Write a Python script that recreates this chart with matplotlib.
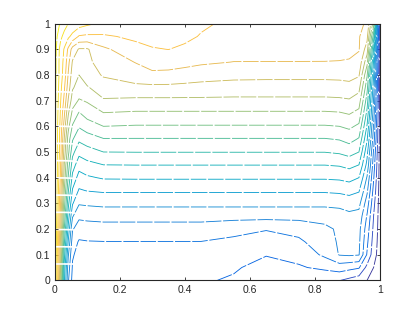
import numpy as np
import matplotlib
matplotlib.use("Agg")
import matplotlib.pyplot as plt
from matplotlib.colors import LinearSegmentedColormap

# ---- data: temperature field ----
x_nodes = [0, 0.008, 0.018, 0.03, 0.042, 0.055, 0.075, 0.1,
           0.15, 0.25, 0.3, 0.35, 0.4, 0.45, 0.55, 0.65, 0.75, 0.83,
           0.875, 0.905, 0.935, 0.96, 0.98, 1.0]
y_nodes = [0.0, 0.05, 0.1, 0.15, 0.2, 0.25, 0.3, 0.35, 0.4, 0.45, 0.5,
           0.55, 0.6, 0.65, 0.7, 0.75, 0.8, 0.85, 0.9, 0.95, 1.0]

#            left wall layer (x<=0.1)                              interior (0.15..0.83)                                                     right wall layer (0.875..1)
row_y000 = [1.0, 0.86, 0.66, 0.38, 0.23, 0.16, 0.145, 0.14] + [0.138, 0.135, 0.134, 0.132, 0.131, 0.13, 0.12, 0.1, 0.09, 0.085] + [0.077, 0.062, 0.045, 0.025, 0.012, 0.0]
row_y005 = [1.0, 0.87, 0.68, 0.4, 0.25, 0.17, 0.15, 0.145] + [0.145, 0.145, 0.145, 0.145, 0.145, 0.145, 0.13, 0.11, 0.12, 0.135] + [0.15, 0.14, 0.13, 0.06, 0.025, 0.0]
row_y010 = [1.0, 0.88, 0.7, 0.44, 0.28, 0.18, 0.16, 0.158] + [0.16, 0.16, 0.16, 0.16, 0.16, 0.16, 0.15, 0.127, 0.14, 0.185] + [0.228, 0.232, 0.228, 0.12, 0.045, 0.0]
row_y015 = [1.0, 0.89, 0.72, 0.48, 0.32, 0.2, 0.17, 0.173] + [0.174, 0.174, 0.174, 0.174, 0.174, 0.174, 0.165, 0.153, 0.167, 0.2] + [0.232, 0.238, 0.235, 0.135, 0.055, 0.0]
row_y020 = [1.0, 0.9, 0.74, 0.52, 0.36, 0.23, 0.2, 0.2] + [0.205, 0.205, 0.205, 0.205, 0.205, 0.205, 0.19, 0.178, 0.19, 0.215] + [0.232, 0.245, 0.24, 0.15, 0.065, 0.0]
row_y025 = [1.0, 0.91, 0.76, 0.56, 0.4, 0.28, 0.235, 0.24] + [0.242, 0.242, 0.242, 0.242, 0.242, 0.242, 0.242, 0.242, 0.242, 0.242] + [0.248, 0.262, 0.258, 0.17, 0.075, 0.0]
row_y030 = [1.0, 0.92, 0.78, 0.59, 0.44, 0.33, 0.28, 0.283] + [0.288, 0.288, 0.288, 0.288, 0.288, 0.288, 0.288, 0.288, 0.288, 0.288] + [0.292, 0.298, 0.29, 0.2, 0.09, 0.0]
row_y035 = [1.0, 0.92, 0.8, 0.62, 0.48, 0.37, 0.32, 0.327] + [0.332, 0.332, 0.332, 0.332, 0.332, 0.332, 0.332, 0.332, 0.332, 0.332] + [0.335, 0.342, 0.33, 0.235, 0.11, 0.0]
row_y040 = [1.0, 0.93, 0.82, 0.65, 0.52, 0.41, 0.355, 0.368] + [0.38, 0.381, 0.381, 0.381, 0.381, 0.381, 0.381, 0.381, 0.381, 0.381] + [0.384, 0.392, 0.375, 0.27, 0.13, 0.0]
row_y045 = [1.0, 0.93, 0.83, 0.67, 0.55, 0.45, 0.395, 0.41] + [0.425, 0.426, 0.426, 0.426, 0.426, 0.426, 0.426, 0.426, 0.426, 0.426] + [0.43, 0.44, 0.425, 0.31, 0.15, 0.0]
row_y050 = [1.0, 0.94, 0.85, 0.7, 0.59, 0.49, 0.44, 0.455] + [0.475, 0.476, 0.476, 0.476, 0.476, 0.476, 0.476, 0.476, 0.476, 0.476] + [0.482, 0.494, 0.475, 0.34, 0.17, 0.0]
row_y055 = [1.0, 0.93, 0.85, 0.72, 0.6, 0.53, 0.485, 0.5] + [0.522, 0.522, 0.522, 0.522, 0.522, 0.522, 0.522, 0.522, 0.522, 0.522] + [0.528, 0.542, 0.52, 0.38, 0.2, 0.0]
row_y060 = [1.0, 0.935, 0.86, 0.75, 0.64, 0.57, 0.53, 0.55] + [0.575, 0.571, 0.571, 0.571, 0.571, 0.571, 0.571, 0.571, 0.571, 0.571] + [0.575, 0.585, 0.565, 0.42, 0.22, 0.0]
row_y065 = [1.0, 0.94, 0.87, 0.78, 0.68, 0.61, 0.57, 0.595] + [0.622, 0.617, 0.617, 0.617, 0.617, 0.617, 0.617, 0.617, 0.617, 0.617] + [0.62, 0.628, 0.61, 0.46, 0.25, 0.0]
row_y070 = [1.0, 0.945, 0.88, 0.81, 0.72, 0.65, 0.62, 0.63] + [0.67, 0.664, 0.664, 0.664, 0.664, 0.664, 0.664, 0.664, 0.664, 0.664] + [0.666, 0.67, 0.65, 0.5, 0.27, 0.0]
row_y075 = [1.0, 0.95, 0.89, 0.83, 0.75, 0.68, 0.655, 0.67] + [0.7, 0.712, 0.712, 0.712, 0.71, 0.708, 0.702, 0.702, 0.702, 0.702] + [0.704, 0.708, 0.69, 0.54, 0.3, 0.0]
row_y080 = [1.0, 0.955, 0.9, 0.85, 0.77, 0.7, 0.675, 0.7] + [0.73, 0.752, 0.764, 0.761, 0.753, 0.745, 0.74, 0.738, 0.738, 0.738] + [0.739, 0.742, 0.73, 0.58, 0.33, 0.0]
row_y085 = [1.0, 0.955, 0.9, 0.86, 0.79, 0.72, 0.69, 0.715] + [0.745, 0.777, 0.796, 0.797, 0.791, 0.783, 0.774, 0.774, 0.774, 0.774] + [0.773, 0.771, 0.76, 0.64, 0.37, 0.0]
row_y090 = [1.0, 0.96, 0.905, 0.87, 0.815, 0.755, 0.72, 0.72] + [0.765, 0.81, 0.822, 0.8255, 0.817, 0.805, 0.798, 0.795, 0.793, 0.79] + [0.79, 0.787, 0.778, 0.7, 0.42, 0.0]
row_y095 = [1.0, 0.975, 0.94, 0.905, 0.885, 0.86, 0.82, 0.815] + [0.818, 0.835, 0.84, 0.84, 0.835, 0.822, 0.81, 0.8, 0.795, 0.79] + [0.786, 0.783, 0.779, 0.74, 0.5, 0.0]
row_y100 = [1.0, 0.99, 0.97, 0.95, 0.925, 0.915, 0.9, 0.885] + [0.865, 0.85, 0.85, 0.848, 0.842, 0.832, 0.815, 0.805, 0.8, 0.795] + [0.792, 0.788, 0.783, 0.77, 0.6, 0.0]

contour_levels = [0.025, 0.075, 0.125, 0.175, 0.225, 0.275, 0.325, 0.375, 0.425, 0.475,
                  0.525, 0.575, 0.625, 0.675, 0.725, 0.775, 0.825, 0.875, 0.925, 0.975]

x_ticks = [0, 0.2, 0.4, 0.6, 0.8, 1]
x_tick_labels = ["0", "0.2", "0.4", "0.6", "0.8", "1"]
y_ticks = [0, 0.1, 0.2, 0.3, 0.4, 0.5, 0.6, 0.7, 0.8, 0.9, 1]
y_tick_labels = ["0", "0.1", "0.2", "0.3", "0.4", "0.5", "0.6", "0.7", "0.8", "0.9", "1"]

# ---- parula colormap (style) ----
_parula = [
    [0.2081, 0.1663, 0.5292], [0.2123, 0.2138, 0.6270], [0.1959, 0.2645, 0.7279],
    [0.1253, 0.3242, 0.8303], [0.0117, 0.3875, 0.8820], [0.0165, 0.4266, 0.8786],
    [0.0498, 0.4586, 0.8641], [0.0723, 0.4887, 0.8467], [0.0793, 0.5200, 0.8312],
    [0.0641, 0.5570, 0.8240], [0.0343, 0.5966, 0.8199], [0.0239, 0.6287, 0.8038],
    [0.0228, 0.6535, 0.7768], [0.0384, 0.6743, 0.7436], [0.0843, 0.6928, 0.7062],
    [0.1453, 0.7098, 0.6646], [0.2178, 0.7250, 0.6193], [0.3022, 0.7376, 0.5712],
    [0.3953, 0.7459, 0.5244], [0.4871, 0.7491, 0.4840], [0.5709, 0.7485, 0.4494],
    [0.6473, 0.7456, 0.4188], [0.7184, 0.7411, 0.3905], [0.7858, 0.7356, 0.3633],
    [0.8507, 0.7299, 0.3360], [0.9139, 0.7258, 0.3063], [0.9739, 0.7314, 0.2666],
    [0.9990, 0.7653, 0.2164], [0.9880, 0.8066, 0.1794], [0.9697, 0.8481, 0.1475],
    [0.9589, 0.8949, 0.1132], [0.9661, 0.9514, 0.0755], [0.9763, 0.9831, 0.0538],
]
parula = LinearSegmentedColormap.from_list("parula", _parula)

T = np.array([row_y000, row_y005, row_y010, row_y015, row_y020, row_y025, row_y030,
              row_y035, row_y040, row_y045, row_y050, row_y055, row_y060, row_y065,
              row_y070, row_y075, row_y080, row_y085, row_y090, row_y095, row_y100])
X, Y = np.meshgrid(x_nodes, y_nodes)

plt.rcParams['font.family'] = ['Liberation Sans', 'DejaVu Sans']
fig = plt.figure(figsize=(4.2, 3.15), dpi=100)
ax = fig.add_axes([0.13, 0.11, 0.775, 0.815])
ax.contour(X, Y, T, levels=contour_levels, cmap=parula, vmin=0, vmax=1,
           linewidths=0.62, linestyles=[(0, (18, 2))])

ax.set_xlim(0, 1)
ax.set_ylim(0, 1)
ax.set_xticks(x_ticks)
ax.set_xticklabels(x_tick_labels)
ax.set_yticks(y_ticks)
ax.set_yticklabels(y_tick_labels)
axcol = (0.15, 0.15, 0.15)
ax.tick_params(direction='in', length=2.4, width=0.6, colors=axcol,
               labelsize=7.5, top=True, right=True, pad=3)
for s in ax.spines.values():
    s.set_color(axcol)
    s.set_linewidth(0.8)

fig.savefig("out.png", dpi=100)
